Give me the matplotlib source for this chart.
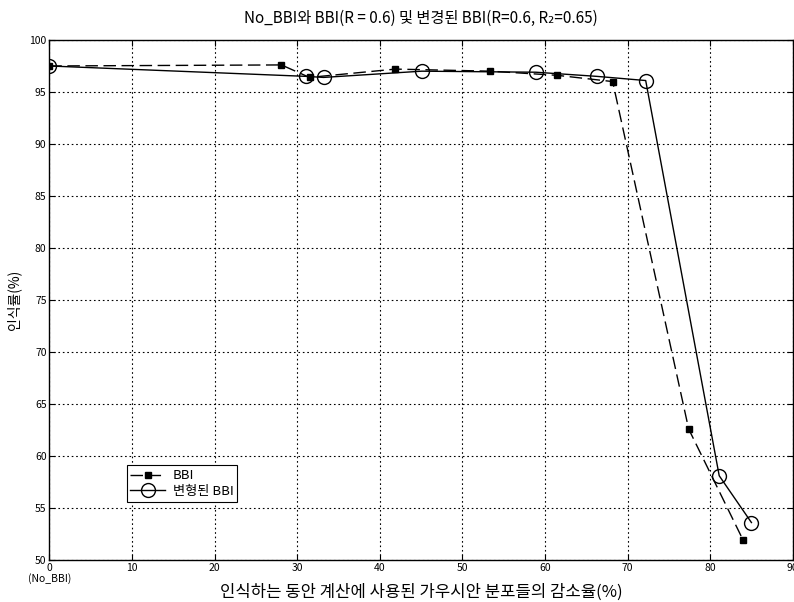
import matplotlib
matplotlib.use("Agg")
import matplotlib.pyplot as plt

plt.rcParams['font.family'] = ['Noto Sans CJK KR', 'DejaVu Sans']

bbi_x = [0, 28.1, 31.5, 41.9, 53.4, 61.5, 68.2, 77.4, 84.0]
bbi_y = [97.5, 97.6, 96.4, 97.2, 97.0, 96.6, 96.0, 62.6, 51.9]
mod_x = [0, 31.1, 33.2, 45.1, 58.9, 66.3, 72.2, 81.1, 85.0]
mod_y = [97.5, 96.5, 96.4, 97.0, 96.9, 96.5, 96.1, 58.1, 53.6]

xticks = [0, 10, 20, 30, 40, 50, 60, 70, 80, 90]
xticklabels = ['0\n(No_BBI)', '10', '20', '30', '40', '50', '60', '70', '80', '90']
yticks = [50, 55, 60, 65, 70, 75, 80, 85, 90, 95, 100]

title = 'No_BBI와 BBI(R = 0.6) 및 변경된 BBI(R=0.6, R₂=0.65)'
xlabel = '인식하는 동안 계산에 사용된 가우시안 분포들의 감소율(%)'
ylabel = '인식률(%)'
labels = ['BBI', '변형된 BBI']

fig = plt.figure(figsize=(7.94, 6.02), dpi=100)
ax = fig.add_axes([0.0621, 0.0698, 0.9363, 0.8638])

ax.plot(bbi_x, bbi_y, color='black', lw=1.0, ls=(0, (9, 4)), marker='s',
        markersize=5, markerfacecolor='black', markeredgecolor='black', label=labels[0])
ax.plot(mod_x, mod_y, color='black', lw=1.0, ls='-', marker='o',
        markersize=10, markerfacecolor='none', markeredgecolor='black', label=labels[1])

ax.set_xlim(0, 90)
ax.set_ylim(50, 100)
ax.set_xticks(xticks)
ax.set_xticklabels(xticklabels, fontsize=7.5)
for t in ax.get_xticklabels():
    t.set_linespacing(1.0)
ax.set_yticks(yticks)
ax.tick_params(axis='y', labelsize=7.5)
ax.tick_params(direction='in', top=True, right=True, length=4, width=0.8, pad=2)
ax.grid(True, color='black', ls=(0, (1.5, 2.5)), lw=0.8)
for s in ax.spines.values():
    s.set_linewidth(1.0)

ax.set_title(title, fontsize=11, pad=12)
ax.set_xlabel(xlabel, fontsize=12, labelpad=0)
ax.set_ylabel(ylabel, fontsize=10, labelpad=6)

leg = ax.legend(loc='upper left', bbox_to_anchor=(0.095, 0.195), fontsize=9.5,
                frameon=True, fancybox=False, edgecolor='black', framealpha=1,
                handlelength=2.6, borderpad=0.3, labelspacing=0.2, handletextpad=0.6)
leg.get_frame().set_linewidth(0.8)

fig.savefig('out.png', dpi=100)
